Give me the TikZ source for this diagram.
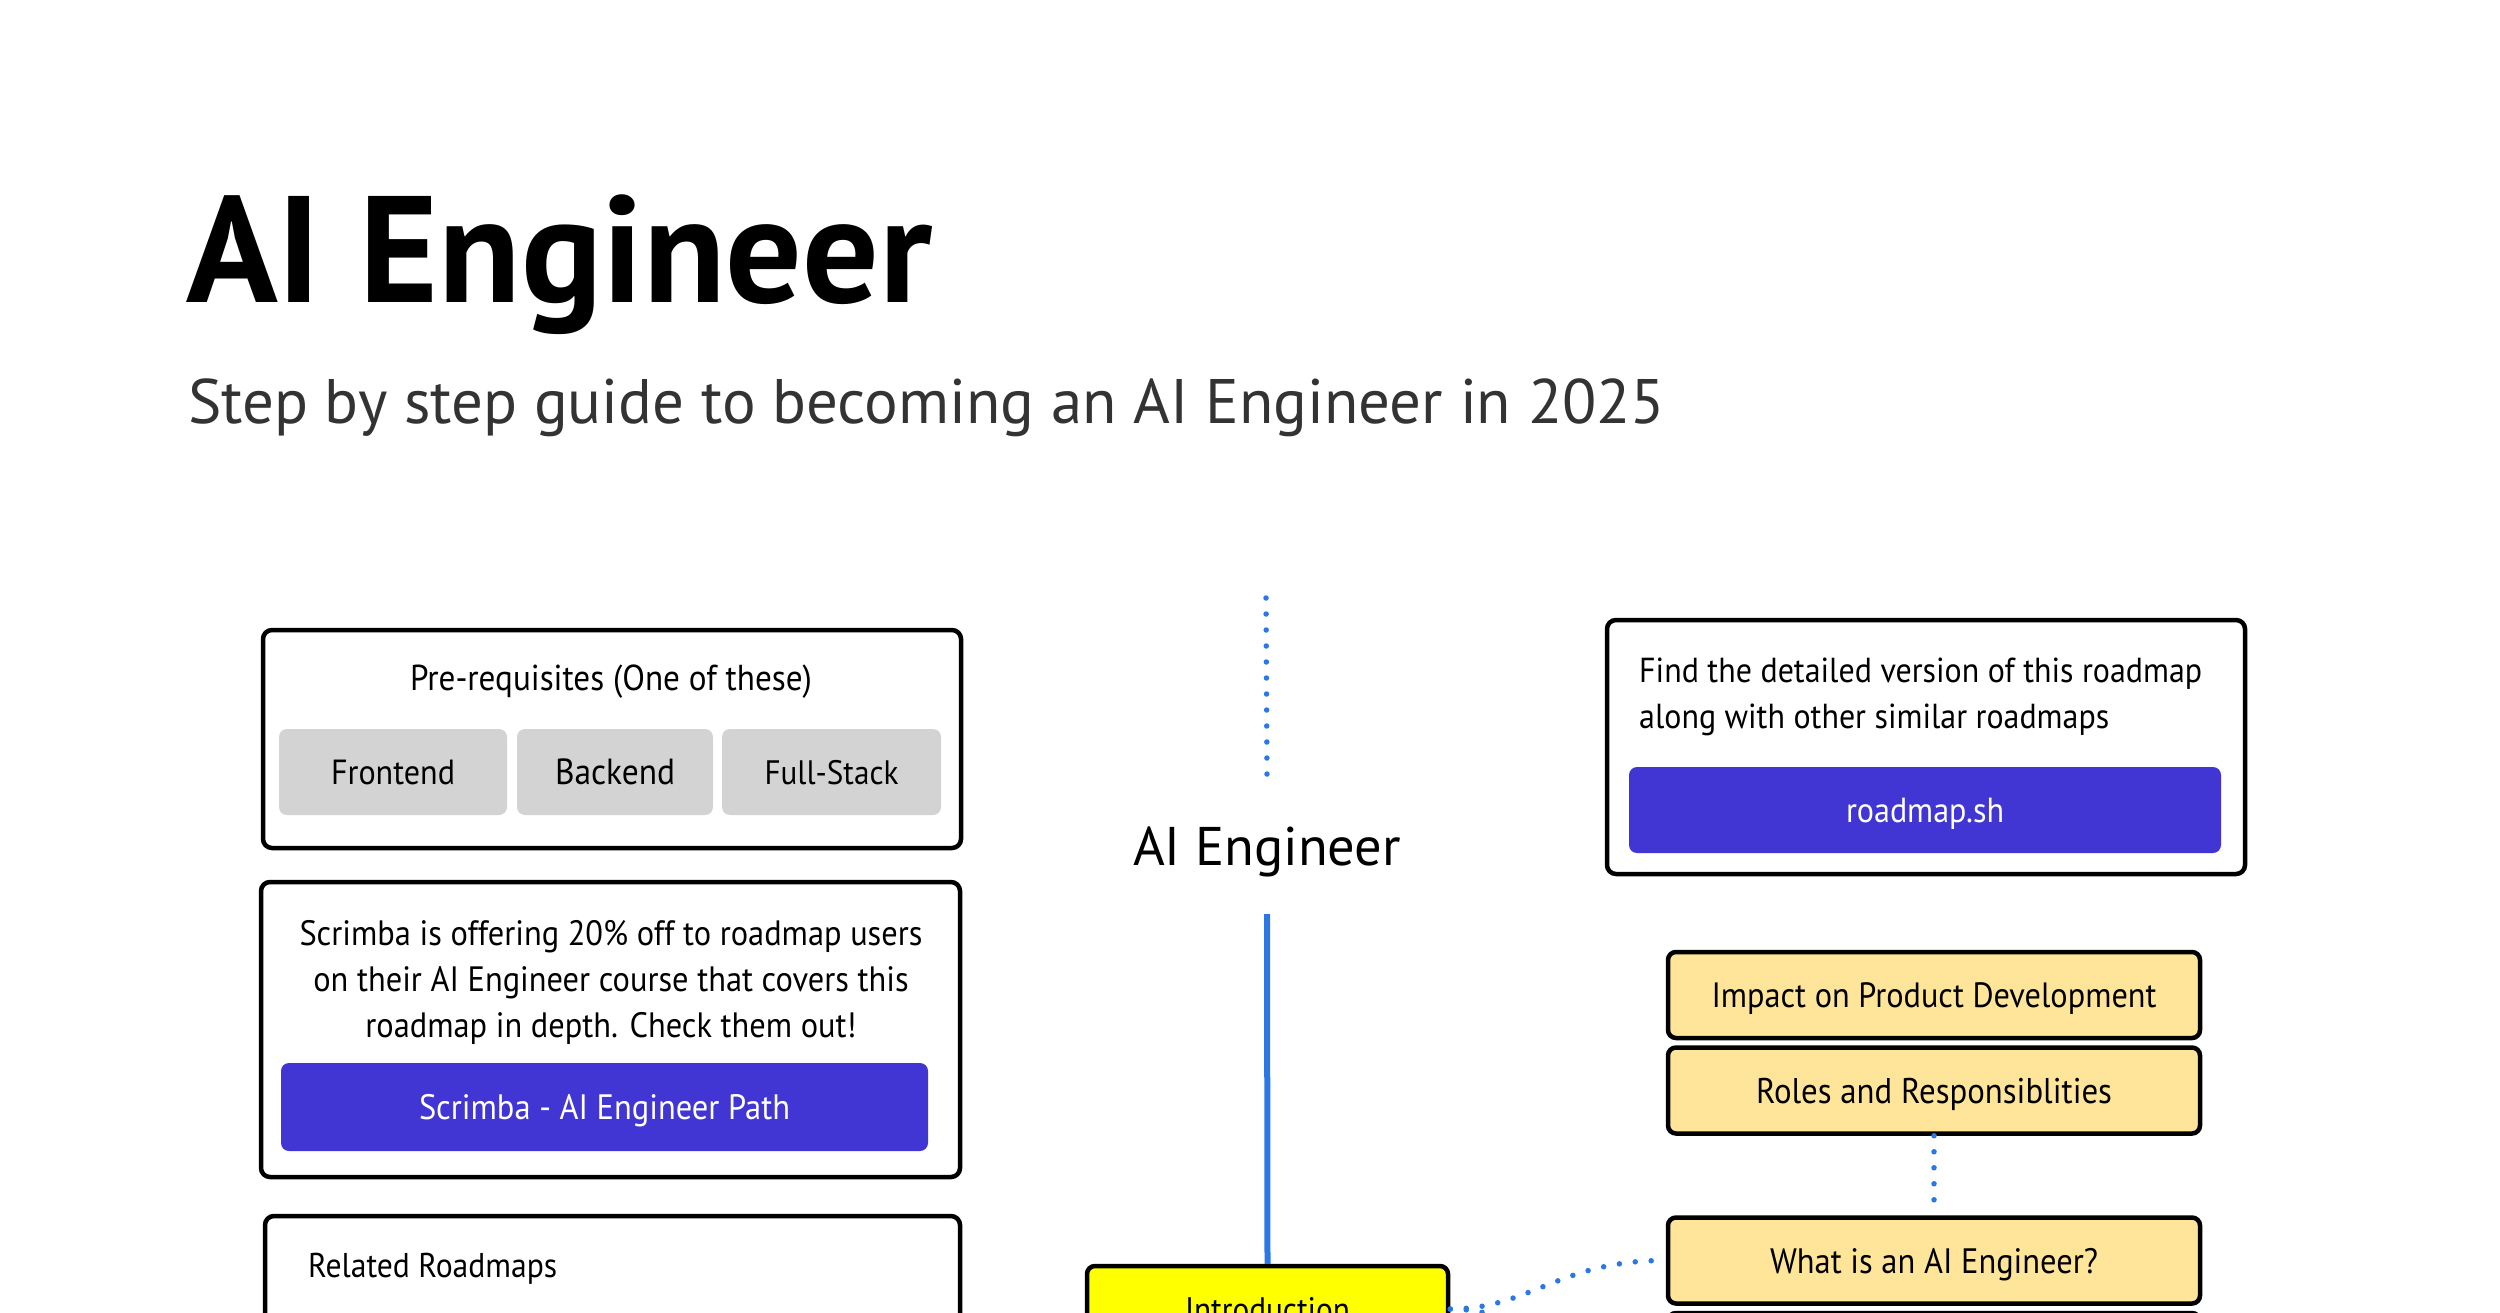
\documentclass[tikz,border=0pt]{standalone}
\usepackage{fontspec}
\setmainfont{PT Sans}[FakeStretch=0.92]
\newfontfamily\headfont{PT Sans}
\usetikzlibrary{calc}
\definecolor{topicy}{HTML}{FFE599}
\definecolor{introy}{HTML}{FFFF00}
\definecolor{btnblue}{HTML}{4136D4}
\definecolor{btngray}{HTML}{D3D3D3}
\definecolor{lineblue}{HTML}{2B78E4}
\definecolor{subgray}{HTML}{333333}
\newsavebox\fitbox
\newlength\fitlen
\newcommand\fitsize[3]{%
  \sbox\fitbox{\fontsize{10pt}{12pt}\selectfont #2}%
  \setlength\fitlen{\wd\fitbox}%
  \pgfmathsetmacro\fitsz{10*#1/\fitlen}%
  \fontsize{\fitsz pt}{#3pt}\selectfont}
\newcommand\fitw[2]{\fitsize{#1}{#2}{12}#2}
\tikzset{
  card/.style={draw=black, line width=4.5pt, rounded corners=9pt, fill=white, inner sep=0pt},
  graybtn/.style={fill=btngray, rounded corners=8pt, inner sep=0pt, minimum height=86pt, text depth=0pt},
  bluebtn/.style={fill=btnblue, rounded corners=8pt, inner sep=0pt, text=white, text depth=0pt},
  topic/.style={draw=black, line width=4.5pt, rounded corners=8pt, fill=topicy, inner sep=0pt, minimum width=532pt, minimum height=86pt, text depth=0pt},
  introbox/.style={draw=black, line width=4.5pt, rounded corners=8pt, fill=introy, inner sep=0pt, minimum width=361pt, minimum height=86pt, text depth=0pt},
  dotline/.style={draw=lineblue, line width=5.5pt, line cap=round, dash pattern=on 0pt off 16pt},
  solidline/.style={draw=lineblue, line width=6pt},
  plain/.style={inner sep=0pt}
}
\begin{document}
\begin{tikzpicture}[x=1pt,y=-1pt]
\useasboundingbox (0,0) rectangle (2500,1313);
\clip (0,0) rectangle (2500,1313);
\fill[white] (0,0) rectangle (2500,1313);

% title
\node[plain, anchor=base west, font=\headfont\bfseries] (title) at (186,303) {\fitw{746}{AI Engineer}};
\node[plain, anchor=base west, text=subgray, font=\headfont] (subtitle) at (188,423) {\fitw{1477}{Step by step guide to becoming an AI Engineer in 2025}};

% prerequisites card
\node[card, minimum width=698pt, minimum height=218pt] (prereq) at (612,739) {};
\node[plain, anchor=base] (prereqtitle) at (611,690) {\fitw{402}{Pre-requisites (One of these)}};
\node[graybtn, minimum width=228pt] (frontend) at (393,772) {\fitw{124}{Frontend}};
\node[graybtn, minimum width=196pt] (backend) at (615,772) {\fitw{120}{Backend}};
\node[graybtn, minimum width=219pt] (fullstack) at (831.5,772) {\fitw{134}{Full-Stack}};

% scrimba card
\node[card, minimum width=699pt, minimum height=295pt] (scrimba) at (610.5,1029.5) {};
\node[plain, align=center, font={\fitsize{623}{Scrimba is offering 20\% off to roadmap users}{46}}] (scrimbatext) at (611,982)
  {Scrimba is offering 20\% off to roadmap users\\on their AI Engineer course that covers this\\roadmap in depth. Check them out!};
\node[bluebtn, minimum width=647pt, minimum height=88pt] (scrimbabtn) at (604.5,1107) {\fitw{371}{Scrimba - AI Engineer Path}};

% related roadmaps card
\node[card, minimum width=695pt, minimum height=204pt] (related) at (612.5,1318) {};
\node[plain, anchor=base west] (relatedtitle) at (308,1277) {\fitw{249}{Related Roadmaps}};

% right card
\node[card, minimum width=638pt, minimum height=254pt] (rcard) at (1926,747) {};
\node[plain, anchor=west, align=left, font={\fitsize{563}{Find the detailed version of this roadmap}{46}}] (rtext) at (1639,697)
  {Find the detailed version of this roadmap\\along with other similar roadmaps};
\node[bluebtn, minimum width=592pt, minimum height=86pt] (rbtn) at (1925,810) {\fitw{158}{roadmap.sh}};

% center spine
\coordinate (dtop) at (1266,598);
\node[plain, font=\headfont] (center) at (1267,852) {\fitw{268}{AI Engineer}};
\node[introbox] (intro) at (1267.5,1309) {\fitw{165}{Introduction}};
\draw[dotline] (dtop) -- ([yshift=75pt]center.center);
\draw[solidline] ([yshift=-62pt]center.center) -- (intro.north);

% topics
\node[topic] (impact) at (1934,995) {\fitw{445}{Impact on Product Development}};
\node[topic] (roles) at (1934,1090.5) {\fitw{356}{Roles and Responsiblities}};
\node[topic] (whatis) at (1934,1260.5) {\fitw{328}{What is an AI Engineer?}};
\node[topic] (nexttopic) at (1934,1356) {};

\draw[dotline] (roles.south) -- (whatis.north);
\draw[dotline] (intro.east) .. controls (1530,1309) and (1560,1260) .. (whatis.west);
\draw[dotline] (intro.east) .. controls (1520,1309) and (1560,1356) .. (nexttopic.west);
\end{tikzpicture}
\end{document}
